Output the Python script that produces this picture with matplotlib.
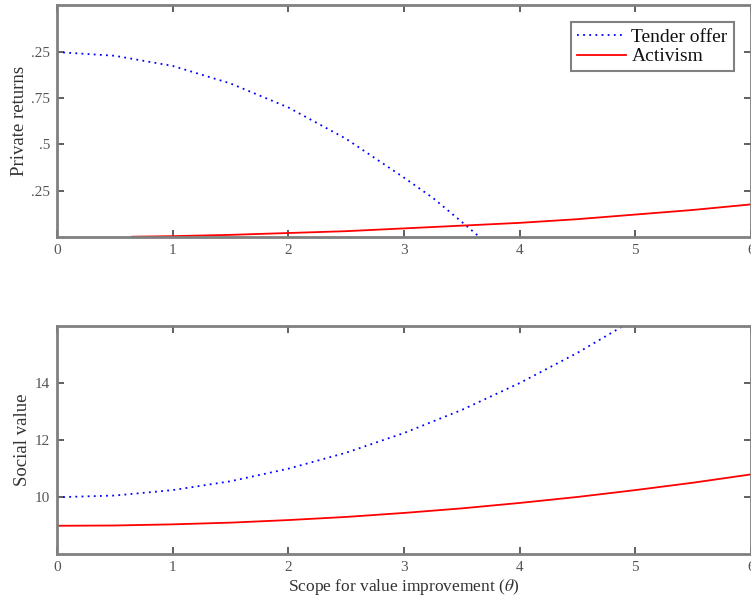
import numpy as np
import matplotlib
matplotlib.use("Agg")
from matplotlib import pyplot as plt

plt.rcParams['font.family'] = ['Liberation Serif', 'DejaVu Serif']
plt.rcParams['mathtext.fontset'] = 'stix'

# private returns
theta_to = [0, 0.5, 1, 1.5, 2, 2.5, 3, 3.25, 3.5, 3.65]
priv_to = [1.0, 0.98, 0.925, 0.83, 0.70, 0.53, 0.32, 0.21, 0.08, 0.0]
theta_act = [0.65, 1, 1.5, 2, 2.5, 3, 3.5, 4, 4.5, 5, 5.5, 6]
priv_act = [0.0, 0.003, 0.01, 0.02, 0.03, 0.045, 0.06, 0.075, 0.095, 0.12, 0.145, 0.175]

# social value
theta_s = [0, 0.5, 1, 1.5, 2, 2.5, 3, 3.5, 4, 4.5, 5, 5.5, 6]
soc_to = [10.0, 10.06, 10.25, 10.56, 11.0, 11.56, 12.25, 13.06, 14.0, 15.06, 16.25, 17.56, 19.0]
soc_act = [9.0, 9.01, 9.05, 9.11, 9.2, 9.31, 9.45, 9.61, 9.8, 10.01, 10.25, 10.51, 10.8]

top_ticks = [0.25, 0.5, 0.75, 1.0]
top_labels = ['.25', '.5', '.75', '.25']
bot_ticks = [10, 12, 14]
x_ticks = [0, 1, 2, 3, 4, 5, 6]

gray = '#808080'
dots = (0, (1, 2.4))
fig = plt.figure(figsize=(7.51, 6.02), dpi=100)
ax1 = fig.add_axes([0.0759, 0.6068, 0.9241, 0.3849])
ax2 = fig.add_axes([0.0759, 0.0792, 0.9241, 0.3793])

ax1.plot(theta_to, priv_to, linestyle=dots, color='blue', lw=1.3, label='Tender offer')
ax1.plot(theta_act, priv_act, '-', color='red', lw=1.3, label='Activism')
ax1.set_xlim(0, 6)
ax1.set_ylim(0, 1.255)
ax1.set_yticks(top_ticks)
ax1.set_yticklabels(top_labels)
ax1.set_ylabel('Private returns', fontsize=13.5, color='#333333', labelpad=2)
leg = ax1.legend(loc='upper right', fontsize=14, fancybox=False, framealpha=1,
                 edgecolor=gray, handlelength=2.5, borderpad=0.3, labelspacing=0.1,
                 handletextpad=0.3, borderaxespad=0.9)
leg.get_frame().set_linewidth(1.5)
for t in leg.get_texts():
    t.set_color('#111111')

ax2.plot(theta_s, soc_to, linestyle=dots, color='blue', lw=1.3)
ax2.plot(theta_s, soc_act, '-', color='red', lw=1.3)
ax2.set_xlim(0, 6)
ax2.set_ylim(8.0, 16.0)
ax2.set_yticks(bot_ticks)
ax2.set_ylabel('Social value', fontsize=13.5, color='#333333', labelpad=3)
ax2.set_xlabel(r'Scope for value improvement ($\theta$)', fontsize=12.5, color='#333333', labelpad=2)

for ax in (ax1, ax2):
    ax.set_xticks(x_ticks)
    ax.tick_params(direction='in', top=True, right=True, length=5, width=1.2,
                   color='#444444', labelcolor='#555555', labelsize=11, pad=5)
    for s in ax.spines.values():
        s.set_color(gray)
        s.set_linewidth(2)

fig.savefig('out.png', dpi=100)
